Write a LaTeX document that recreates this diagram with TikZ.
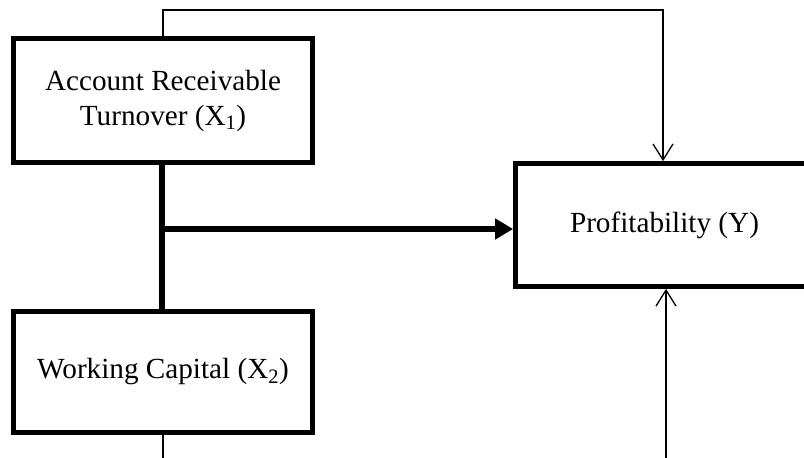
\documentclass[tikz,border=0pt]{standalone}
\usepackage{fontspec}
\setmainfont{Liberation Serif}
\usetikzlibrary{arrows.meta}
\tikzset{
  varbox/.style={draw=black, line width=4.7pt, rectangle, align=center, inner sep=0pt,
    font=\fontsize{29.2}{35}\selectfont},
  thinlink/.style={draw=black, line width=1.3pt},
  barbarrow/.style={thinlink, -{Straight Barb[length=16pt,width=20pt,line width=1.3pt]}},
  thicklink/.style={draw=black, line width=6pt},
  thickarrow/.style={thicklink, -{Triangle[length=18pt,width=20pt]}}
}
\begin{document}
\begin{tikzpicture}[x=1pt,y=1pt]
\useasboundingbox (0,0) rectangle (804,458);
\clip (0,0) rectangle (804,458);
\node[varbox, minimum width=299pt, minimum height=124pt] (b1) at (163,357.5)
  {Account Receivable\\Turnover (X\textsubscript{1})};
\node[varbox, minimum width=299pt, minimum height=121pt] (b2) at (163,86)
  {Working Capital (X\textsubscript{2})};
\node[varbox, minimum width=298pt, minimum height=123pt] (y) at (664.5,233)
  {\raisebox{-4pt}{Profitability (Y)}};
\coordinate (topR) at (663,448);
\coordinate (botR) at (666,0);
\coordinate (botL) at (163,0);
\coordinate (j) at (162,229);
\draw[barbarrow] (b1.north) |- (topR) -- (topR |- y.north);
\draw[barbarrow] (botR) -- (botR |- y.south);
\draw[thinlink] (b2.south) -- (botL);
\draw[thicklink] (b1.south -| j) -- (b2.north -| j);
\draw[thickarrow] (j) -- (j -| y.west);
\end{tikzpicture}
\end{document}
